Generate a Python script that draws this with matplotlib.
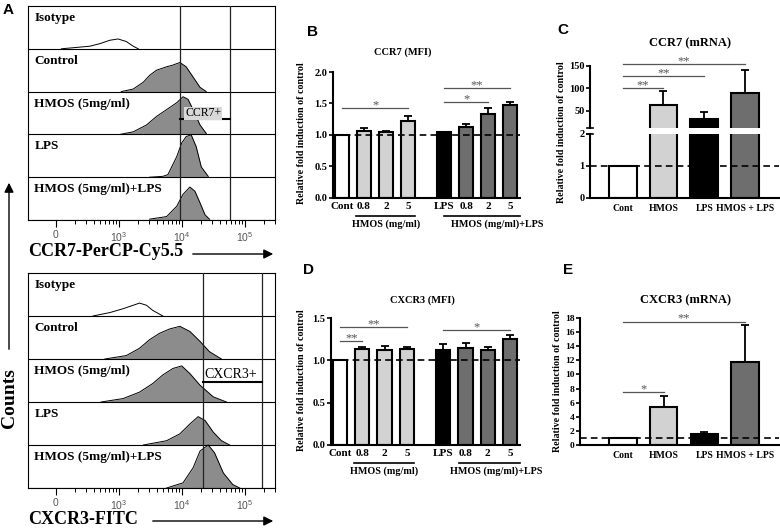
import matplotlib
matplotlib.use('Agg')
import matplotlib.pyplot as plt
import numpy as np
from matplotlib.transforms import blended_transform_factory

SERIF = 'Liberation Serif'
SANS = 'Liberation Sans'
plt.rcParams['font.family'] = SERIF
plt.rcParams['mathtext.default'] = 'regular'

# ---- panel A: flow cytometry histograms (x in decades, h = fraction of row) ----
row_names = ['Isotype', 'Control', 'HMOS (5mg/ml)', 'LPS', 'HMOS (5mg/ml)+LPS']

ccr7_hist_x = [
    [2.09, 2.54, 2.70, 2.86, 2.99, 3.12, 3.23, 3.31],
    [3.04, 3.23, 3.39, 3.49, 3.60, 3.76, 3.86, 3.97, 4.07, 4.18, 4.29, 4.39],
    [3.02, 3.23, 3.44, 3.60, 3.76, 3.92, 4.02, 4.10, 4.18, 4.29, 4.39],
    [3.49, 3.70, 3.78, 3.92, 4.00, 4.07, 4.15, 4.23, 4.31, 4.42],
    [3.49, 3.76, 3.92, 4.02, 4.13, 4.21, 4.29, 4.37, 4.44],
]
ccr7_hist_h = [
    [0.0, 0.06, 0.12, 0.20, 0.23, 0.17, 0.06, 0.0],
    [0.0, 0.06, 0.22, 0.38, 0.50, 0.58, 0.62, 0.68, 0.58, 0.34, 0.10, 0.0],
    [0.0, 0.06, 0.22, 0.42, 0.58, 0.74, 0.88, 0.82, 0.58, 0.22, 0.02],
    [0.0, 0.02, 0.06, 0.48, 0.80, 0.95, 0.99, 0.71, 0.24, 0.02],
    [0.02, 0.08, 0.32, 0.60, 0.77, 0.67, 0.40, 0.12, 0.02],
]
ccr7_gates = [3.98, 4.76]

cxcr3_hist_x = [
    [2.59, 2.86, 3.07, 3.23, 3.33, 3.44, 3.54, 3.70],
    [2.78, 3.12, 3.33, 3.49, 3.65, 3.81, 3.97, 4.13, 4.29, 4.44, 4.63],
    [2.72, 3.07, 3.33, 3.54, 3.70, 3.86, 4.00, 4.13, 4.29, 4.50, 4.71],
    [3.39, 3.76, 3.97, 4.13, 4.26, 4.37, 4.50, 4.63, 4.76],
    [3.76, 4.02, 4.18, 4.29, 4.42, 4.52, 4.66, 4.81, 4.92],
]
cxcr3_hist_h = [
    [0.0, 0.08, 0.17, 0.25, 0.30, 0.25, 0.13, 0.0],
    [0.0, 0.08, 0.25, 0.45, 0.60, 0.70, 0.76, 0.64, 0.41, 0.17, 0.0],
    [0.0, 0.08, 0.23, 0.43, 0.63, 0.78, 0.84, 0.66, 0.39, 0.12, 0.0],
    [0.0, 0.10, 0.26, 0.49, 0.66, 0.57, 0.30, 0.10, 0.0],
    [0.0, 0.12, 0.47, 0.86, 1.00, 0.82, 0.35, 0.08, 0.0],
]
cxcr3_gates = [4.33, 5.27]

# ---- panels B / D: MFI ----
mfi_labels = ['Cont', '0.8', '2', '5', 'LPS', '0.8', '2', '5']
ccr7_mfi = [1.00, 1.06, 1.04, 1.22, 1.04, 1.12, 1.34, 1.47]
ccr7_mfi_err = [0.0, 0.05, 0.03, 0.08, 0.01, 0.06, 0.09, 0.05]
ccr7_mfi_sig = [(0, 3, 1.43, '*'), (4, 6, 1.52, '*'), (4, 7, 1.74, '**')]

cxcr3_mfi = [1.00, 1.13, 1.12, 1.13, 1.12, 1.15, 1.12, 1.25]
cxcr3_mfi_err = [0.0, 0.03, 0.05, 0.03, 0.07, 0.06, 0.04, 0.05]
cxcr3_mfi_sig = [(0, 1, 1.23, '**'), (0, 3, 1.39, '**'), (4, 7, 1.36, '*')]

# ---- panels C / E: mRNA ----
mrna_labels = ['Cont', 'HMOS', 'LPS', 'HMOS + LPS']
ccr7_mrna = [1.0, 64, 33, 91]
ccr7_mrna_err = [0, 30, 14, 49]
ccr7_mrna_sig = [(0, 1, 100, '**'), (0, 2, 127, '**'), (0, 3, 155, '**')]

cxcr3_mrna = [1.0, 5.4, 1.5, 11.75]
cxcr3_mrna_err = [0, 1.57, 0.4, 5.3]
cxcr3_mrna_sig = [(0, 1, 7.5, '*'), (0, 3, 17.5, '**')]

LIGHT, DARK = '#d2d2d2', '#6e6e6e'
mfi_colors = ['white', LIGHT, LIGHT, LIGHT, 'black', DARK, DARK, DARK]
mrna_colors = ['white', LIGHT, 'black', DARK]

W, H = 780, 530
fig = plt.figure(figsize=(W / 100, H / 100), dpi=100)


def fx(px):
    return px / W


def fy(py):
    return 1 - py / H


def rect(left, top, right, bottom):
    return [left / W, 1 - bottom / H, (right - left) / W, (bottom - top) / H]


def flow_panel(r, xs, hs, gates, gate_label, lab_h, line_h, lab_size, lab_box):
    ax = fig.add_axes(r)
    n = len(row_names)
    ax.set_xlim(1.56, 5.48)
    ax.set_ylim(0, n)
    for k in range(n):
        base = n - 1 - k
        x = np.array(xs[k])
        h = np.array(hs[k])
        ax.fill_between(x, base, base + h, color='white' if k == 0 else '#8c8c8c', lw=0, zorder=1)
        ax.plot(x, base + h, color='black', lw=0.7, zorder=2)
        ax.text(1.66, base + 0.86, row_names[k], ha='left', va='top', fontsize=9.5,
                fontweight='bold', family=SERIF)
        ax.axhline(base, color='black', lw=0.8, zorder=3)
    for g in gates:
        ax.axvline(g, color='#222222', lw=0.9, zorder=3)
    ax.plot(gates, [2 + line_h] * 2, color='black', lw=1.5, zorder=4)
    bbox = dict(facecolor='#d8d8d8', edgecolor='none', pad=0.5) if lab_box else None
    ax.text(np.mean(gates) - 0.03, 2 + lab_h, gate_label, ha='center', va='center',
            fontsize=lab_size, family=SERIF, bbox=bbox, zorder=5)
    ax.set_yticks([])
    ax.set_xticks([2, 3, 4, 5])
    ax.set_xticklabels(['0', '$10^3$', '$10^4$', '$10^5$'], family=SANS)
    minor = [d + np.log10(m) for d in (2, 3, 4, 5) for m in range(2, 10) if d + np.log10(m) < 5.48]
    ax.set_xticks(minor, minor=True)
    ax.tick_params(axis='x', which='major', length=5, width=0.8, labelsize=7.5,
                   labelcolor='#555555', pad=2)
    ax.tick_params(axis='x', which='minor', length=3, width=0.7)
    for s in ax.spines.values():
        s.set_linewidth(0.8)
    return ax


axA1 = flow_panel(rect(28, 6, 275, 220), ccr7_hist_x, ccr7_hist_h, ccr7_gates, 'CCR7+',
                  0.49, 0.37, 8.5, True)
axA2 = flow_panel(rect(28, 273, 275, 488), cxcr3_hist_x, cxcr3_hist_h, cxcr3_gates, 'CXCR3+',
                  0.65, 0.47, 10, False)

fig.text(fx(28), fy(251), 'CCR7-PerCP-Cy5.5', fontsize=13, fontweight='bold', va='center', ha='left')
fig.text(fx(28), fy(519), 'CXCR3-FITC', fontsize=13, fontweight='bold', va='center', ha='left')
arrow = dict(arrowstyle='-|>', color='black', lw=1.0, mutation_scale=14)
axA1.annotate('', xy=(fx(276), fy(254)), xytext=(fx(190), fy(254)), xycoords='figure fraction',
              arrowprops=arrow, annotation_clip=False)
axA2.annotate('', xy=(fx(276), fy(521)), xytext=(fx(150), fy(521)), xycoords='figure fraction',
              arrowprops=arrow, annotation_clip=False)
axA1.annotate('', xy=(fx(9), fy(180)), xytext=(fx(9), fy(352)), xycoords='figure fraction',
              arrowprops=arrow, annotation_clip=False)
fig.text(fx(10), fy(398), 'Counts', rotation=90, fontsize=14, fontweight='bold', ha='center', va='center')


def style_bar_axes(ax, yticks, fmt):
    for s in ('top', 'right'):
        ax.spines[s].set_visible(False)
    for s in ('left', 'bottom'):
        ax.spines[s].set_linewidth(1.5)
    ax.set_yticks(yticks)
    ax.set_yticklabels([fmt.format(v) for v in yticks], fontsize=7.5, fontweight='bold')
    ax.tick_params(axis='y', length=3, width=1.2, pad=1)
    ax.tick_params(axis='x', length=0)


def draw_bars(ax, pos, vals, errs, colors, width):
    ax.bar(pos, vals, width, color=colors, edgecolor='black', linewidth=1.5, zorder=2)
    ax.errorbar(pos, vals, yerr=[np.zeros(len(errs)), errs], fmt='none', ecolor='black',
                elinewidth=1.3, capsize=3, capthick=1.3, zorder=3)


def draw_sig(ax, pos, items):
    for i, j, y, s in items:
        ax.plot([pos[i], pos[j]], [y, y], color='#555555', lw=0.9, clip_on=False, zorder=5)
        ax.annotate(s, ((pos[i] + pos[j]) / 2, y), xytext=(0, 2), textcoords='offset points',
                    ha='center', va='center', fontsize=9, color='#555555', annotation_clip=False)


def dashed(ax):
    ax.axhline(1, color='black', ls=(0, (4, 2.5)), lw=1.2, zorder=4, clip_on=False)


def mfi_panel(r, vals, errs, sig, ylim, yticks, right_start):
    ax = fig.add_axes(r)
    pos = np.r_[np.arange(4), np.arange(4) + 4.64]
    draw_bars(ax, pos, vals, errs, mfi_colors, 0.64)
    dashed(ax)
    draw_sig(ax, pos, sig)
    ax.set_xlim(-0.41, 8.09)
    ax.set_ylim(*ylim)
    style_bar_axes(ax, yticks, '{:.1f}')
    ax.set_xticks(pos)
    ax.set_xticklabels(mfi_labels, fontsize=8, fontweight='bold')
    ax.tick_params(axis='x', pad=3)
    tr = blended_transform_factory(ax.transData, ax.transAxes)
    ax.plot([pos[1] - 0.36, pos[3] + 0.32], [-0.145, -0.145], color='black', lw=1.2,
            transform=tr, clip_on=False)
    ax.plot([right_start, 8.09], [-0.145, -0.145], color='black', lw=1.2,
            transform=tr, clip_on=False)
    ax.text(2.0, -0.21, 'HMOS (mg/ml)', transform=tr, ha='center', va='center',
            fontsize=7.3, fontweight='bold')
    ax.text(4.95, -0.21, 'HMOS (mg/ml)+LPS', transform=tr, ha='left', va='center',
            fontsize=7.3, fontweight='bold')
    return ax


axB = mfi_panel(rect(333, 72, 520, 198), ccr7_mfi, ccr7_mfi_err, ccr7_mfi_sig,
                (0, 2.0), [0, 0.5, 1.0, 1.5, 2.0], 4.64)
axD = mfi_panel(rect(331, 318, 520, 445), cxcr3_mfi, cxcr3_mfi_err, cxcr3_mfi_sig,
                (0, 1.5), [0, 0.5, 1.0, 1.5], 5.34)

# ---- panel C: broken axis ----
pos4 = np.arange(4)
axC1 = fig.add_axes(rect(590, 134, 779, 198))
axC2 = fig.add_axes(rect(590, 61.5, 779, 128))
for ax in (axC1, axC2):
    draw_bars(ax, pos4, ccr7_mrna, ccr7_mrna_err, mrna_colors, 0.68)
    ax.set_xlim(-0.8, 3.83)
axC1.set_ylim(0, 2)
axC2.set_ylim(12, 160)
dashed(axC1)
draw_sig(axC2, pos4, ccr7_mrna_sig)
style_bar_axes(axC1, [0, 1, 2], '{:d}')
style_bar_axes(axC2, [50, 100, 150], '{:d}')
axC2.spines['bottom'].set_visible(False)
axC2.spines['left'].set_bounds(12, 150)
axC2.set_xticks([])
axC1.set_xticks(pos4)
axC1.set_xticklabels(mrna_labels, fontsize=7, fontweight='bold')
axC1.tick_params(axis='x', pad=4)
for ax, yy in ((axC1, 1.0), (axC2, 0.0)):
    ax.plot([-0.016, 0.016], [yy, yy], transform=ax.transAxes, color='black', lw=1.2, clip_on=False)

# ---- panel E ----
axE = fig.add_axes(rect(580, 318, 779, 445))
draw_bars(axE, pos4, cxcr3_mrna, cxcr3_mrna_err, mrna_colors, 0.68)
dashed(axE)
draw_sig(axE, pos4, cxcr3_mrna_sig)
axE.set_xlim(-1.05, 3.83)
axE.set_ylim(0, 18)
style_bar_axes(axE, list(range(0, 19, 2)), '{:d}')
axE.set_yticklabels([str(v) for v in range(0, 19, 2)], fontsize=6.8, fontweight='bold')
axE.set_xticks(pos4)
axE.set_xticklabels(mrna_labels, fontsize=7, fontweight='bold')
axE.tick_params(axis='x', pad=4)

# ---- titles, y labels, panel letters ----
ylab = 'Relative fold induction of control'
for x, y in ((302, 133), (561, 132), (302, 380), (557, 381)):
    fig.text(fx(x), fy(y), ylab, rotation=90, fontsize=7.2, fontweight='bold', ha='center', va='center')
for txt, x, y, s in (('CCR7 (MFI)', 403, 52, 7.5), ('CCR7 (mRNA)', 690, 43, 9),
                     ('CXCR3 (MFI)', 422, 300, 7.5), ('CXCR3 (mRNA)', 685, 300, 9)):
    fig.text(fx(x), fy(y), txt, fontsize=s, fontweight='bold', ha='center', va='center')
for txt, x, y in (('A', 8, 10), ('B', 312, 32), ('C', 563, 30), ('D', 308, 270), ('E', 568, 270)):
    fig.text(fx(x), fy(y), txt, fontsize=11, fontweight='bold', family=SANS, ha='center', va='center')

fig.savefig('out.png', dpi=100)
